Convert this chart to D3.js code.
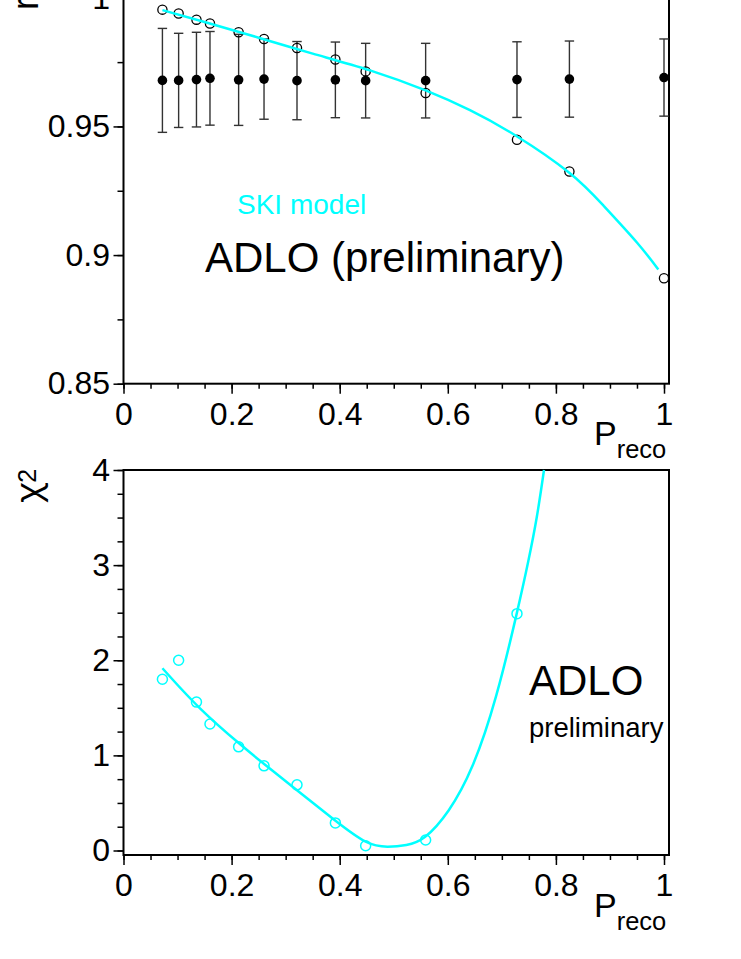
<!DOCTYPE html>
<html><head><meta charset="utf-8">
<script src="https://cdn.jsdelivr.net/npm/d3@7"></script>
<style>
html,body{margin:0;padding:0;background:#fff;}
svg{display:block;font-family:"Liberation Sans",Arial,Helvetica,sans-serif;}
</style></head>
<body>
<svg id="c" width="741" height="959"></svg>
<script>
// ---- data ----
const pReco   = [0.072,0.102,0.135,0.160,0.213,0.260,0.321,0.392,0.448,0.559,0.728,0.825,1.000];
const rData   = [0.9679,0.9679,0.9682,0.9687,0.9681,0.9684,0.9678,0.9681,0.9678,0.9678,0.9682,0.9684,0.9690];
const rErr    = [0.0202,0.0183,0.0184,0.0182,0.0177,0.0156,0.0152,0.0147,0.0145,0.0145,0.0147,0.0148,0.0150];
const rSki    = [0.9954,0.9939,0.9915,0.9900,0.9866,0.9840,0.9805,0.9760,0.9714,0.9630,0.9448,0.9325,0.8910];
const skiCurveX = [0.072,0.15,0.25,0.35,0.456,0.559,0.641,0.7275,0.8248,0.8877,0.9495,0.9895];
const skiCurveY = [0.9952,0.9906,0.9845,0.9783,0.9718,0.9640,0.9563,0.9462,0.9320,0.9193,0.9050,0.8944];

const chiX = [0.072,0.102,0.135,0.160,0.213,0.260,0.321,0.392,0.448,0.559,0.728];
const chiY = [1.80,2.00,1.56,1.33,1.09,0.89,0.69,0.29,0.05,0.11,2.49];
const chiCurveX = [0.072,0.1415,0.2137,0.2585,0.3204,0.3904,0.4481,0.4883,0.5232,0.5582,0.6018,0.6457,0.6892,0.7275,0.7489,0.7645,0.778];
const chiCurveY = [1.916,1.495,1.127,0.917,0.636,0.321,0.093,0.040,0.058,0.145,0.424,0.89,1.62,2.49,3.04,3.50,4.0];

const xTicks = [0,0.2,0.4,0.6,0.8,1];
const xTickLabels = ["0","0.2","0.4","0.6","0.8","1"];
const rTicks = [0.85,0.9,0.95,1];
const rTickLabels = ["0.85","0.9","0.95","1"];
const chiTicks = [0,1,2,3,4];
const chiTickLabels = ["0","1","2","3","4"];

// ---- layout ----
const CYAN = "#00ffff";
const svg = d3.select("#c");
const x = d3.scaleLinear().domain([0,1]).range([123.5,664]);
const yTop = d3.scaleLinear().domain([0.85,1.0]).range([383.7,-2.2]);
const yBot = d3.scaleLinear().domain([0,4]).range([850.5,470]);
const frameRight = 669;

function minorTicks(a,b,step){const out=[];for(let v=a;v<=b+1e-9;v+=step)out.push(+v.toFixed(4));return out;}

function drawPanel(y, frameTop, frameBottom, yMajor, yLabels, yMinorStep, xAxisY){
  const g = svg.append("g");
  g.append("g").attr("transform",`translate(0,${xAxisY})`)
    .call(d3.axisBottom(x).tickValues(minorTicks(0,1,0.05)).tickSize(5).tickFormat(""))
    .call(s=>s.select(".domain").remove())
    .call(s=>s.selectAll("line").attr("stroke","#000").attr("stroke-width",1.5));
  g.append("g").attr("transform",`translate(0,${xAxisY})`)
    .call(d3.axisBottom(x).tickValues(xTicks).tickSize(10).tickFormat((d,i)=>xTickLabels[i]))
    .call(s=>s.select(".domain").remove())
    .call(s=>s.selectAll("line").attr("stroke","#000").attr("stroke-width",1.5))
    .call(s=>s.selectAll("text").attr("y",41.3).attr("dy",null).attr("fill","#000")
      .attr("font-size",32).attr("font-family","Liberation Sans, Arial, sans-serif"));
  const yd = y.domain();
  g.append("g").attr("transform","translate(123.5,0)")
    .call(d3.axisLeft(y).tickValues(minorTicks(yd[0],yd[1],yMinorStep)).tickSize(6).tickFormat(""))
    .call(s=>s.select(".domain").remove())
    .call(s=>s.selectAll("line").attr("stroke","#000").attr("stroke-width",1.5));
  g.append("g").attr("transform","translate(123.5,0)")
    .call(d3.axisLeft(y).tickValues(yMajor).tickSize(10).tickPadding(3.5).tickFormat((d,i)=>yLabels[i]))
    .call(s=>s.select(".domain").remove())
    .call(s=>s.selectAll("line").attr("stroke","#000").attr("stroke-width",1.5))
    .call(s=>s.selectAll("text").attr("fill","#000").attr("font-size",32)
      .attr("font-family","Liberation Sans, Arial, sans-serif"));
  g.append("rect").attr("x",123.5).attr("y",frameTop)
    .attr("width",frameRight-123.5).attr("height",frameBottom-frameTop)
    .attr("fill","none").attr("stroke","#000").attr("stroke-width",2);
  const t = g.append("text").attr("x",594).attr("y",xAxisY+61.5).attr("fill","#000");
  t.append("tspan").attr("font-size",34).text("P");
  t.append("tspan").attr("font-size",25.5).attr("dy",13).text("reco");
  return g;
}

// ===== top panel =====
const gTop = drawPanel(yTop, -2.2, 383.7, rTicks, rTickLabels, 0.025, 383.7);

const topData = pReco.map((p,i)=>({p, r:rData[i], e:rErr[i], s:rSki[i]}));
const eb = gTop.append("g").attr("stroke","#333").attr("stroke-width",1.4);
eb.selectAll("line.v").data(topData).join("line")
  .attr("x1",d=>x(d.p)).attr("x2",d=>x(d.p))
  .attr("y1",d=>yTop(d.r+d.e)).attr("y2",d=>yTop(d.r-d.e));
eb.selectAll("line.t").data(topData).join("line")
  .attr("x1",d=>x(d.p)-4.7).attr("x2",d=>x(d.p)+4.7)
  .attr("y1",d=>yTop(d.r+d.e)).attr("y2",d=>yTop(d.r+d.e));
eb.selectAll("line.b").data(topData).join("line")
  .attr("x1",d=>x(d.p)-4.7).attr("x2",d=>x(d.p)+4.7)
  .attr("y1",d=>yTop(d.r-d.e)).attr("y2",d=>yTop(d.r-d.e));
gTop.append("g").selectAll("circle").data(topData).join("circle")
  .attr("cx",d=>x(d.p)).attr("cy",d=>yTop(d.s)).attr("r",4.6)
  .attr("fill","none").attr("stroke","#000").attr("stroke-width",1.3);
gTop.append("g").selectAll("circle").data(topData).join("circle")
  .attr("cx",d=>x(d.p)).attr("cy",d=>yTop(d.r)).attr("r",4.8).attr("fill","#000");
const skiLine = d3.line().x(d=>x(d[0])).y(d=>yTop(d[1])).curve(d3.curveNatural);
gTop.append("path").datum(skiCurveX.map((v,i)=>[v,skiCurveY[i]]))
  .attr("d",skiLine).attr("fill","none").attr("stroke",CYAN).attr("stroke-width",2.5);
gTop.append("text").attr("x",237).attr("y",214).attr("font-size",28).attr("fill",CYAN).text("SKI model");
gTop.append("text").attr("x",205).attr("y",272).attr("font-size",42).attr("fill","#000").text("ADLO (preliminary)");
gTop.append("text").attr("transform","translate(38,10) rotate(-90)").attr("font-size",36).attr("fill","#000").text("r");

// ===== bottom panel =====
const gBot = drawPanel(yBot, 470, 855, chiTicks, chiTickLabels, 0.25, 855);
gBot.append("g").selectAll("circle").data(chiX.map((v,i)=>[v,chiY[i]])).join("circle")
  .attr("cx",d=>x(d[0])).attr("cy",d=>yBot(d[1])).attr("r",5)
  .attr("fill","none").attr("stroke",CYAN).attr("stroke-width",1.5);
const chiLine = d3.line().x(d=>x(d[0])).y(d=>yBot(d[1])).curve(d3.curveNatural);
gBot.append("path").datum(chiCurveX.map((v,i)=>[v,chiCurveY[i]]))
  .attr("d",chiLine).attr("fill","none").attr("stroke",CYAN).attr("stroke-width",2.5);
gBot.append("text").attr("x",529).attr("y",695).attr("font-size",42).attr("fill","#000").text("ADLO");
gBot.append("text").attr("x",529).attr("y",737).attr("font-size",27.5).attr("fill","#000").text("preliminary");
const chiT = gBot.append("text").attr("transform","translate(40,503) rotate(-90)").attr("fill","#000");
chiT.append("tspan").attr("font-size",34).attr("font-family","Noto Sans, DejaVu Sans, sans-serif").text("χ");
chiT.append("tspan").attr("font-size",25).attr("dy",-4).text("2");
</script>
</body></html>
